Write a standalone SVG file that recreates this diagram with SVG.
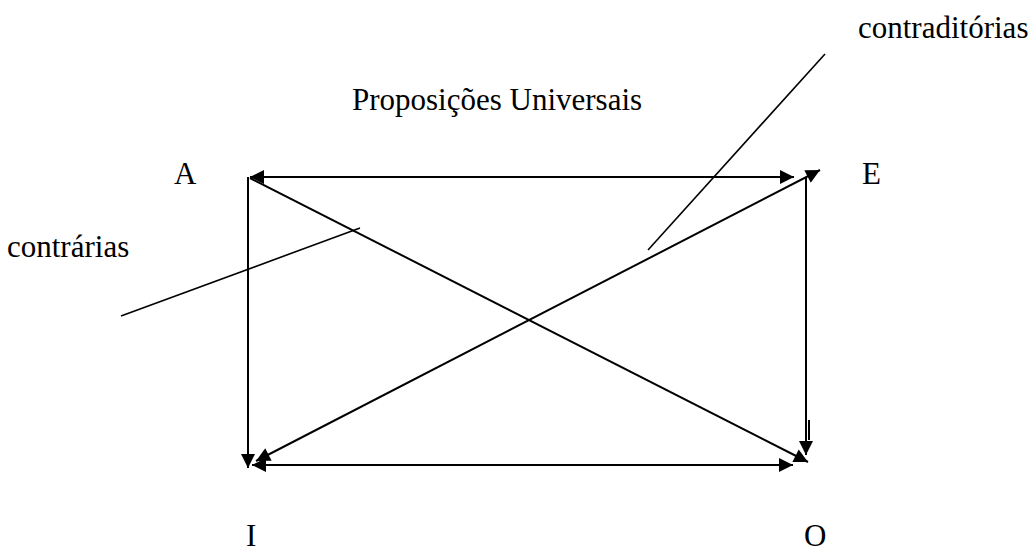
<svg xmlns="http://www.w3.org/2000/svg" width="1035" height="551" viewBox="0 0 1035 551">
<defs>
<marker id="ah" viewBox="0 0 10 10" refX="10" refY="5" markerWidth="16" markerHeight="14" markerUnits="userSpaceOnUse" orient="auto-start-reverse">
<path d="M0,0 L10,5 L0,10 z" fill="#000"/>
</marker>
<style>
.t{font-family:"Liberation Serif","Times New Roman",serif;font-size:31px;fill:#000}
.c{stroke:#000;stroke-width:2;fill:none}
.p{stroke:#000;stroke-width:1.6;fill:none}
</style>
</defs>
<rect width="1035" height="551" fill="#fff"/>
<g id="connectors">
<line class="c" x1="330" y1="177" x2="250" y2="177" marker-end="url(#ah)"/>
<line class="c" x1="250" y1="177" x2="794" y2="177" marker-end="url(#ah)"/>
<line class="c" x1="248" y1="177" x2="248" y2="468" marker-end="url(#ah)"/>
<line class="c" x1="806" y1="178" x2="806" y2="455" marker-end="url(#ah)"/>
<line class="c" x1="809" y1="420" x2="809" y2="440"/>
<line class="c" x1="330" y1="465" x2="252" y2="465" marker-end="url(#ah)"/>
<line class="c" x1="252" y1="465" x2="793" y2="465" marker-end="url(#ah)"/>
<line class="c" x1="250" y1="178" x2="808" y2="462" marker-end="url(#ah)"/>
<line class="c" x1="256" y1="461" x2="820" y2="170" marker-start="url(#ah)" marker-end="url(#ah)"/>
<line class="p" x1="121" y1="316" x2="360" y2="228"/>
<line class="p" x1="648" y1="250" x2="825" y2="54"/>
</g>
<g id="title"><text class="t" x="497" y="110" text-anchor="middle">Proposições Universais</text></g>
<g id="node-A"><text class="t" x="174" y="184">A</text></g>
<g id="node-E"><text class="t" x="862" y="184">E</text></g>
<g id="node-I"><text class="t" x="246" y="546">I</text></g>
<g id="node-O"><text class="t" x="804" y="546">O</text></g>
<g id="label-contrarias"><text class="t" x="7" y="257">contrárias</text></g>
<g id="label-contraditorias"><text class="t" x="858" y="38">contraditórias</text></g>
</svg>
